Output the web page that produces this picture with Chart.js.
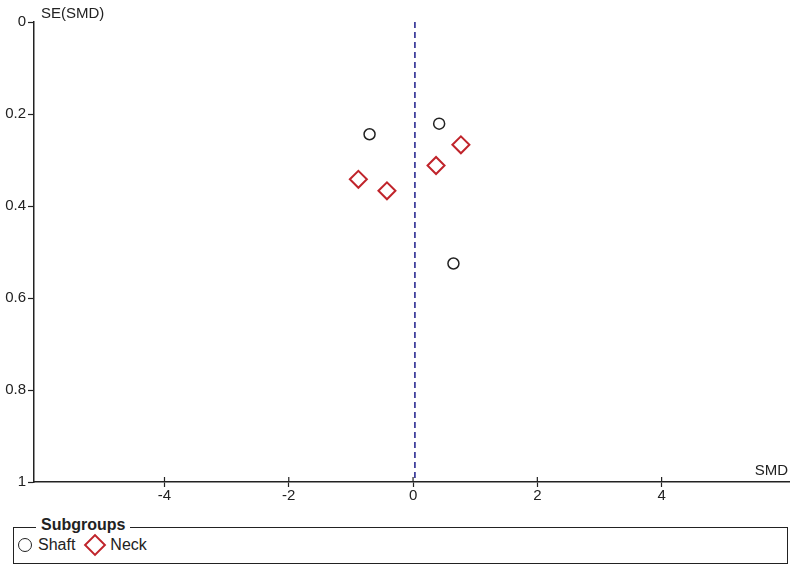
<!DOCTYPE html>
<html>
<head>
<meta charset="utf-8">
<script src="https://cdn.jsdelivr.net/npm/chart.js@4.4.1/dist/chart.umd.min.js"></script>
<style>
    body { margin: 0; background: #fff; font-family: "Liberation Sans", Arial, sans-serif; color: #222; }
    #wrap { position: absolute; left: 0; top: 0; width: 800px; height: 515px; }
    #box {
        position: absolute; left: 13px; top: 527px; width: 773px; height: 35px;
        border: 1.5px solid #222;
    }
    #title {
        position: absolute; left: 36px; top: 516px; padding: 0 5px; background: #fff;
        font-weight: bold; font-size: 16px;
    }
    #items { position: absolute; left: 18px; top: 536px; font-size: 16px; display: flex; align-items: center; }
    .circ { width: 12px; height: 12px; border: 1.5px solid #222; border-radius: 50%; margin-right: 6px; }
    .diam { width: 12px; height: 12px; border: 2px solid #c0242b; transform: rotate(45deg); margin: 0 7px 0 12px; }
</style>
</head>
<body>
<div id="wrap"><canvas id="chart"></canvas></div>
<div id="box"></div>
<div id="title">Subgroups</div>
<div id="items">
    <span class="circ"></span><span>Shaft</span>
    <span class="diam"></span><span>Neck</span>
</div>
<script>
const shaftSMD = [-0.70, 0.42, 0.65];
const shaftSE = [0.244, 0.221, 0.525];
const neckSMD = [0.77, 0.37, -0.88, -0.42];
const neckSE = [0.267, 0.312, 0.342, 0.367];
const pooledSMD = 0.03;
const xTicks = [-4, -2, 0, 2, 4];
const yTicks = [0, 0.2, 0.4, 0.6, 0.8, 1];

const tickFont = { family: '"Liberation Sans", Arial', size: 15 };

const toPoints = (xs, ys) => xs.map((x, i) => ({ x: x, y: ys[i] }));

// dashed line, inner x ticks and axis titles
const extras = {
    id: 'extras',
    afterDatasetsDraw(chart) {
        const ctx = chart.ctx;
        const xs = chart.scales.x;
        const ys = chart.scales.y;
        ctx.save();
        ctx.strokeStyle = '#1c1c8a';
        ctx.lineWidth = 1.5;
        ctx.setLineDash([6, 4]);
        ctx.beginPath();
        const px = xs.getPixelForValue(pooledSMD);
        ctx.moveTo(px, ys.getPixelForValue(0));
        ctx.lineTo(px, ys.getPixelForValue(1));
        ctx.stroke();
        ctx.setLineDash([]);

        ctx.strokeStyle = '#222';
        ctx.lineWidth = 1.2;
        xTicks.forEach(v => {
            const tx = xs.getPixelForValue(v);
            ctx.beginPath();
            ctx.moveTo(tx, ys.bottom - 5);
            ctx.lineTo(tx, ys.bottom);
            ctx.stroke();
        });

        ctx.fillStyle = '#222';
        ctx.font = '15px "Liberation Sans", Arial';
        ctx.textBaseline = 'alphabetic';
        ctx.textAlign = 'left';
        ctx.fillText('SE(SMD)', xs.left + 7, 18);
        ctx.textAlign = 'right';
        ctx.fillText('SMD', xs.right - 1, ys.bottom - 7);
        ctx.restore();
    }
};

new Chart(document.getElementById('chart'), {
    type: 'scatter',
    data: {
        datasets: [{
            label: 'Shaft',
            data: toPoints(shaftSMD, shaftSE),
            pointStyle: 'circle',
            pointRadius: 5.5,
            pointBorderWidth: 1.5,
            borderColor: '#222',
            backgroundColor: 'rgba(0,0,0,0)'
        }, {
            label: 'Neck',
            data: toPoints(neckSMD, neckSE),
            pointStyle: 'rectRot',
            pointRadius: 8.5,
            pointBorderWidth: 2,
            borderColor: '#c0242b',
            backgroundColor: 'rgba(0,0,0,0)'
        }]
    },
    options: {
        responsive: true,
        maintainAspectRatio: false,
        animation: false,
        layout: { padding: { top: 22, right: 11, left: 0, bottom: 0 } },
        plugins: {
            legend: { display: false },
            tooltip: { enabled: false }
        },
        scales: {
            x: {
                type: 'linear',
                min: -6.1,
                max: 6.05,
                afterBuildTicks: s => { s.ticks = xTicks.map(v => ({ value: v })); },
                afterFit: s => { s.height = 33; },
                border: { color: '#222', width: 1.5 },
                grid: { drawOnChartArea: false, tickLength: 5, color: '#222', tickWidth: 1.2 },
                ticks: { color: '#222', font: tickFont, padding: 0 }
            },
            y: {
                type: 'linear',
                reverse: true,
                min: 0,
                max: 1,
                afterBuildTicks: s => { s.ticks = yTicks.map(v => ({ value: v })); },
                afterFit: s => { s.width = 34; },
                border: { color: '#222', width: 1.5 },
                grid: { drawOnChartArea: false, tickLength: 6, color: '#222', tickWidth: 1.2 },
                ticks: { color: '#222', font: tickFont, padding: 2, callback: v => String(v) }
            }
        }
    },
    plugins: [extras]
});
</script>
</body>
</html>
